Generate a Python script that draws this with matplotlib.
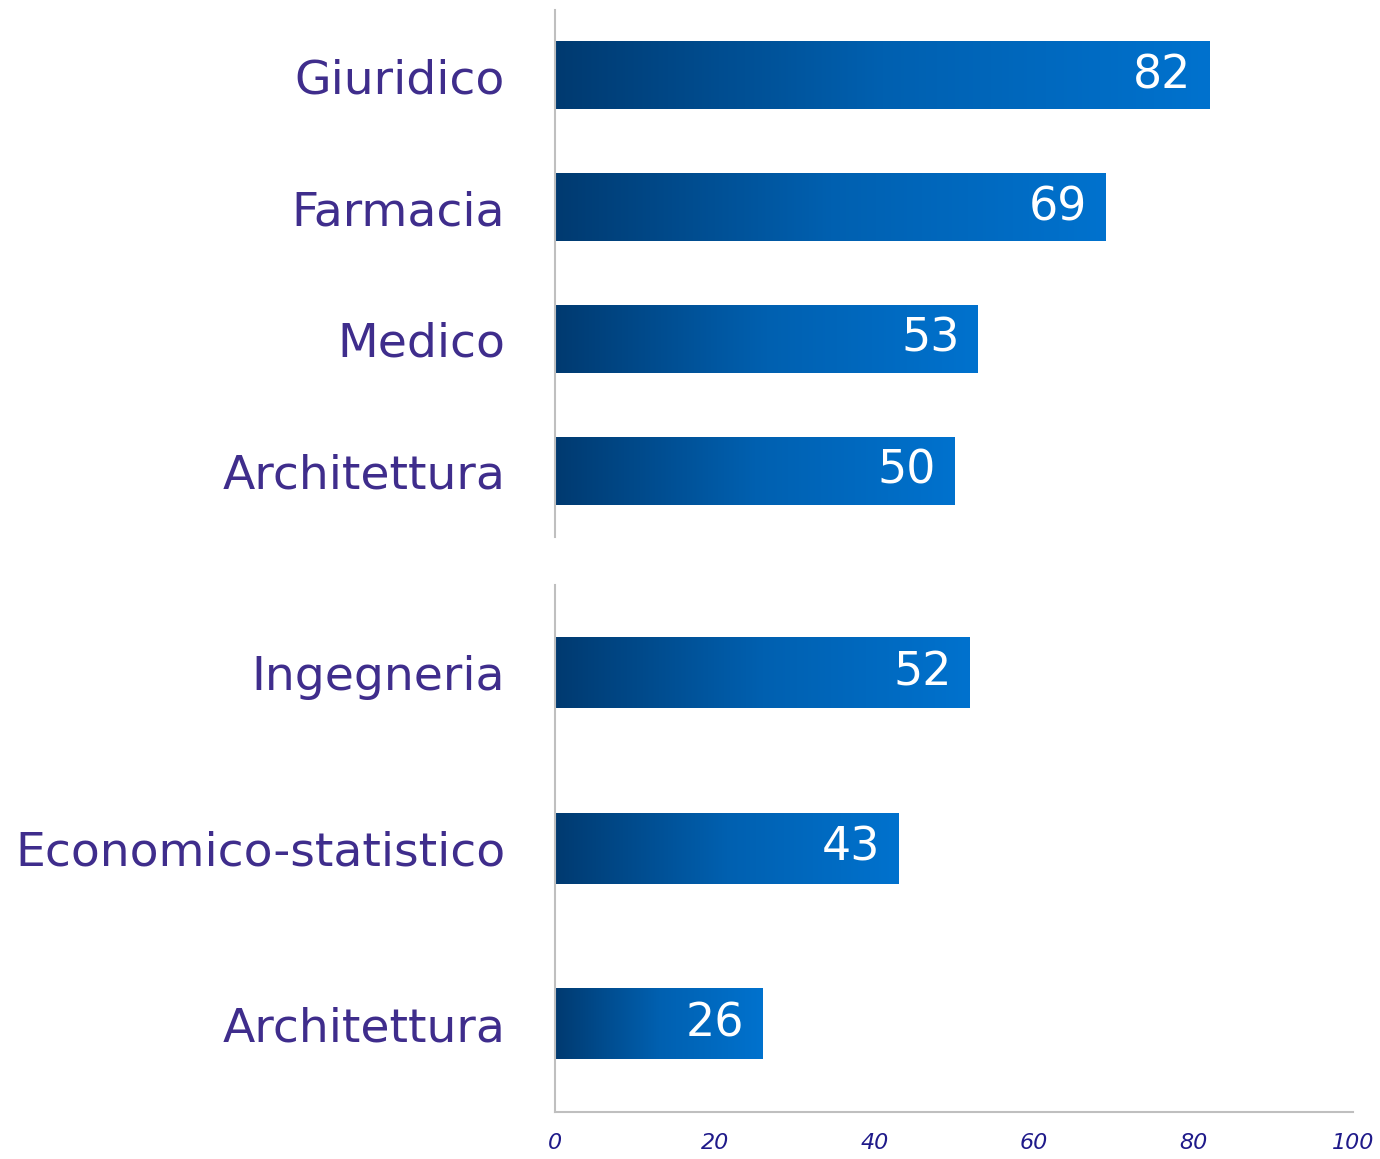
import matplotlib.pyplot as plt
import numpy as np
from matplotlib.colors import LinearSegmentedColormap

# top group
top_labels = ["Giuridico", "Farmacia", "Medico", "Architettura"]
top_values = [82, 69, 53, 50]

# bottom group
bottom_labels = ["Ingegneria", "Economico-statistico", "Architettura"]
bottom_values = [52, 43, 26]

x_ticks = [0, 20, 40, 60, 80, 100]

LABEL_COLOR = "#3F2D8C"
TICK_COLOR = "#1F1A8A"
SPINE_COLOR = "#BFBFBF"
bar_cmap = LinearSegmentedColormap.from_list("bar", ["#003A70", "#0060B0", "#0072CE"])
grad = np.linspace(0, 1, 256).reshape(1, -1)


def draw_group(ax, labels, values, height):
    n = len(labels)
    for i, v in enumerate(values):
        y = n - 1 - i
        ax.imshow(grad, cmap=bar_cmap, aspect="auto", interpolation="bicubic",
                  extent=[0, v, y - height / 2, y + height / 2], zorder=2)
        ax.text(v - 2.3, y, str(v), ha="right", va="center", color="white",
                fontsize=33, fontfamily="DejaVu Sans", zorder=3)
    ax.set_xlim(0, 100)
    ax.set_ylim(-0.5, n - 0.5)
    ax.set_yticks(range(n))
    ax.set_yticklabels(labels[::-1], fontsize=34, color=LABEL_COLOR)
    ax.tick_params(axis="y", length=0, pad=36)
    for s in ["top", "right"]:
        ax.spines[s].set_visible(False)
    ax.spines["left"].set_color(SPINE_COLOR)
    ax.spines["left"].set_linewidth(1.5)


fig = plt.figure(figsize=(13.8, 11.59), dpi=100)
ax_top = fig.add_axes([0.4022, 0.5367, 0.5783, 0.4547])
ax_bot = fig.add_axes([0.4022, 0.0406, 0.5783, 0.4547])

draw_group(ax_top, top_labels, top_values, 0.51)
draw_group(ax_bot, bottom_labels, bottom_values, 0.40)

ax_top.spines["bottom"].set_visible(False)
ax_top.set_xticks([])

ax_bot.spines["bottom"].set_color(SPINE_COLOR)
ax_bot.spines["bottom"].set_linewidth(1.5)
ax_bot.set_xticks(x_ticks)
ax_bot.set_xticklabels([str(t) for t in x_ticks], fontsize=16, color=TICK_COLOR,
                       style="italic")
ax_bot.tick_params(axis="x", length=0, pad=15)

fig.savefig("out.png", dpi=100)
